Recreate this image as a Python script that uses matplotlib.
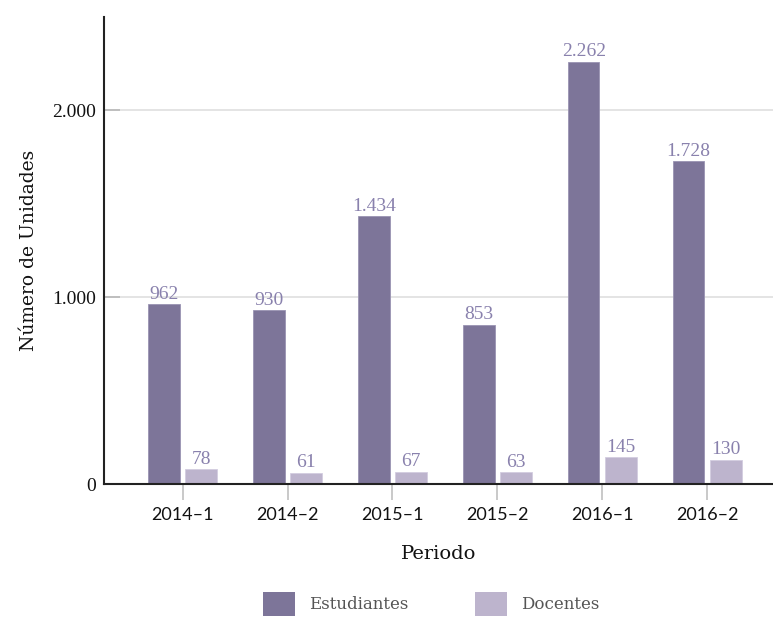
"""
Unidades por periodo: estudiantes y docentes.
"""

import matplotlib.pyplot as plt
import numpy as np
from matplotlib.patches import Patch

PERIODOS = ["2014–1", "2014–2", "2015–1", "2015–2", "2016–1", "2016–2"]
ESTUDIANTES = [962, 930, 1434, 853, 2262, 1728]
DOCENTES = [78, 61, 67, 63, 145, 130]
Y_TICKS = [0, 1000, 2000]

COLOR_EST = "#7d7599"
COLOR_DOC = "#bdb4cd"
COLOR_VAL = "#8981ad"


def fmt_miles(v: float) -> str:
    """Thousands separator with a dot."""
    return f"{int(v):,}".replace(",", ".")


def main() -> None:
    fig = plt.figure(figsize=(7.73, 6.19), dpi=100)
    ax = fig.add_axes([0.1345, 0.218, 0.87, 0.7544])

    x = np.arange(len(PERIODOS))
    width = 0.30
    off = 0.177

    b1 = ax.bar(x - off, ESTUDIANTES, width, color=COLOR_EST,
                edgecolor="#9a93b3", linewidth=0.6, zorder=3)
    b2 = ax.bar(x + off, DOCENTES, width, color=COLOR_DOC,
                edgecolor="#d3cde0", linewidth=0.6, zorder=3)

    for bars, vals in ((b1, ESTUDIANTES), (b2, DOCENTES)):
        ax.bar_label(bars, labels=[fmt_miles(v) for v in vals], padding=1,
                     color=COLOR_VAL, fontsize=14, family="Liberation Serif")

    ax.set_xlim(-0.75, 5.66)
    ax.set_ylim(0, 2500)
    ax.set_xticks(x)
    ax.set_xticklabels(PERIODOS, family="Lato", fontsize=13, color="#111111")
    ax.set_yticks(Y_TICKS)
    ax.set_yticklabels([fmt_miles(v) for v in Y_TICKS],
                       family="Liberation Serif", fontsize=14, color="#111111")

    ax.tick_params(axis="x", direction="out", length=11.5, width=1.1,
                   color="#bbbbbb", pad=5)
    ax.tick_params(axis="y", direction="in", length=11.5, width=1.1,
                   color="#b5b5b5", pad=6)

    ax.grid(axis="y", color="#dddddd", linewidth=1.1, zorder=0)
    ax.set_axisbelow(True)

    for side in ("top", "right"):
        ax.spines[side].set_visible(False)
    for side in ("left", "bottom"):
        ax.spines[side].set_color("#222222")
        ax.spines[side].set_linewidth(1.5)
        ax.spines[side].set_zorder(4)

    ax.set_xlabel("Periodo", family="DejaVu Serif", fontsize=14,
                  color="#111111")
    ax.set_ylabel("Número de Unidades", family="DejaVu Serif", fontsize=13.5,
                  labelpad=10, color="#111111")
    ax.xaxis.set_label_coords(0.497, -0.13)

    handles = [Patch(facecolor=COLOR_EST, label="Estudiantes"),
               Patch(facecolor=COLOR_DOC, label="Docentes")]
    fig.legend(handles=handles, loc="center", bbox_to_anchor=(0.558, 0.024),
               ncol=2, frameon=False, handlelength=1.9, handleheight=1.9,
               handletextpad=0.85, columnspacing=4.0,
               prop={"family": "DejaVu Serif", "size": 12},
               labelcolor="#555555")

    fig.savefig("out.png", dpi=100)
    plt.close(fig)


if __name__ == "__main__":
    main()
